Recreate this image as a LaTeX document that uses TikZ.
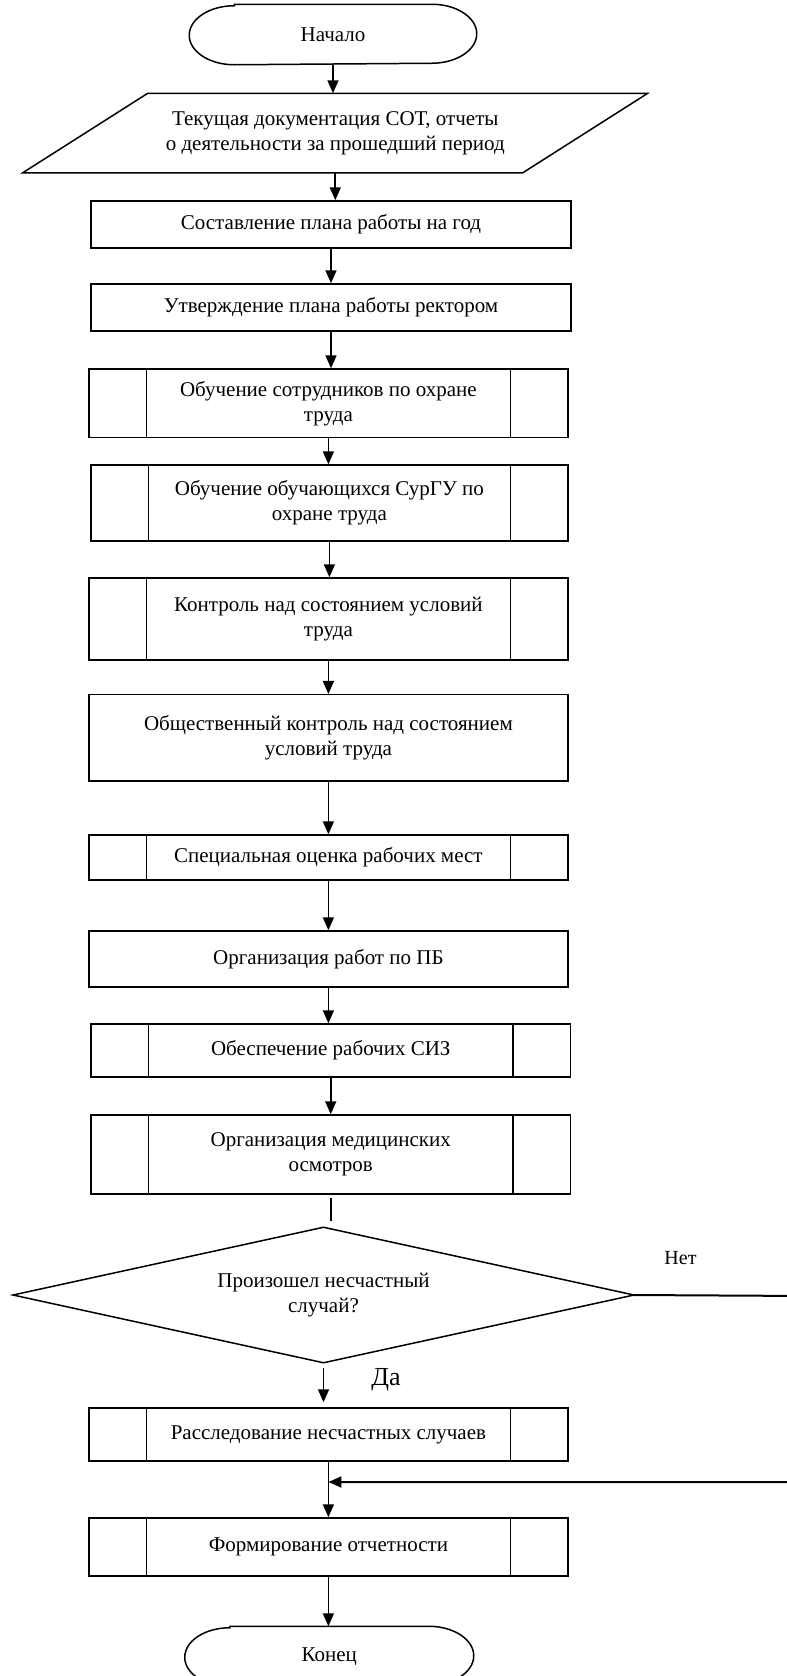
\documentclass[tikz,border=0pt]{standalone}
\usepackage{fontspec}
\setmainfont{Liberation Serif}
\usetikzlibrary{arrows.meta,calc}
\tikzset{
  txt/.style={font=\fontsize{21}{25}\selectfont},
  base/.style={txt, line width=1.5pt, inner sep=0pt, align=center},
  proc/.style={base, draw, rectangle},
  subproc/.style={proc, path picture={\draw[line width=1.5pt]
     ([xshift=57.5pt]path picture bounding box.north west) -- ([xshift=57.5pt]path picture bounding box.south west)
     ([xshift=-57.5pt]path picture bounding box.north east) -- ([xshift=-57.5pt]path picture bounding box.south east);}},
  termbox/.style={base, rectangle, minimum height=59pt},
  iobox/.style={base, rectangle, minimum width=498.5pt, minimum height=78pt},
  decision/.style={base, rectangle, minimum width=619.5pt, minimum height=134pt},
  outline/.style={line width=1.5pt, line join=miter},
  arr/.style={line width=1.7pt, -{Triangle[width=11pt,length=13pt]}},
  plain/.style={line width=1.5pt},
  lbl/.style={inner sep=0pt},
}
\newcommand\termoutline[1]{\draw[outline] ([xshift=45pt]#1.north west) -- ([xshift=-45pt]#1.north east)
   arc[start angle=90,end angle=-90,x radius=45pt,y radius=29.5pt] -- ([xshift=45pt]#1.south west)
   arc[start angle=270,end angle=90,x radius=45pt,y radius=29.5pt] -- cycle;}
\begin{document}
\begin{tikzpicture}[x=1pt,y=-1pt]
\useasboundingbox (0,0) rectangle (787,1676);
\clip (0,0) rectangle (787,1676);

\node[termbox, minimum width=286pt] (start) at (333,34.5) {Начало};
\termoutline{start}
\node[iobox] (para) at (335.3,133) {Текущая документация СОТ, отчеты\\о деятельности за прошедший период};
\draw[outline] ([xshift=62.5pt]para.north west) -- ([xshift=62.5pt]para.north east)
   -- ([xshift=-62.5pt]para.south east) -- ([xshift=-62.5pt]para.south west) -- cycle;

\node[proc, minimum width=480pt, minimum height=47pt] (b1) at (331,224.5) {Составление плана работы на год};
\node[proc, minimum width=480pt, minimum height=47pt] (b2) at (331,307.5) {Утверждение плана работы ректором};
\node[subproc, minimum width=479.2pt, minimum height=68.7pt] (b3) at (328.4,403.35) {Обучение сотрудников по охране\\труда};
\node[subproc, minimum width=477.2pt, minimum height=76pt] (b4) at (329.4,503) {Обучение обучающихся СурГУ по\\охране труда};
\node[subproc, minimum width=479.2pt, minimum height=82pt] (b5) at (328.4,619) {Контроль над состоянием условий\\труда};
\node[proc, minimum width=479.2pt, minimum height=86.3pt] (b6) at (328.4,737.85) {Общественный контроль над состоянием\\условий труда};
\node[subproc, minimum width=479.2pt, minimum height=45pt] (b7) at (328.4,857.5) {Специальная оценка рабочих мест};
\node[proc, minimum width=479.2pt, minimum height=56pt] (b8) at (328.4,959) {Организация работ по ПБ};
\node[subproc, minimum width=479.9pt, minimum height=53pt] (b9) at (330.75,1050.5) {Обеспечение рабочих СИЗ};
\node[subproc, minimum width=479.9pt, minimum height=79pt] (b10) at (330.75,1154.5) {Организация медицинских\\осмотров};
\node[decision] (dia) at (323.5,1295) {Произошел несчастный\\случай?};
\draw[outline] (dia.north) -- (dia.east) -- (dia.south) -- (dia.west) -- cycle;
\node[subproc, minimum width=479.2pt, minimum height=53pt] (b11) at (328.4,1434.5) {Расследование несчастных случаев};
\node[subproc, minimum width=479.2pt, minimum height=58pt] (b12) at (328.4,1547) {Формирование отчетности};
\node[termbox, minimum width=287.5pt] (end) at (329.25,1656.5) {Конец};
\termoutline{end}

\node[lbl, font=\fontsize{20}{24}\selectfont] (net) at (680.5,1258) {Нет};
\node[lbl, font=\fontsize{26}{30}\selectfont] (da) at (386,1380) {Да};

\draw[arr] (start.south) -- (start.south |- para.north);
\draw[arr] (para.south) -- (para.south |- b1.north);
\draw[arr] (b1.south) -- (b1.south |- b2.north);
\draw[arr] (b2.south) -- (b2.south |- b3.north);
\draw[arr] (b3.south) -- (b3.south |- b4.north);
\draw[arr] (b4.south) -- (b4.south |- b5.north);
\draw[arr] (b5.south) -- (b5.south |- b6.north);
\draw[arr] (b6.south) -- (b6.south |- b7.north);
\draw[arr] (b7.south) -- (b7.south |- b8.north);
\draw[arr] (b8.south) -- (b8.south |- b9.north);
\draw[arr] (b9.south) -- (b9.south |- b10.north);
\draw[plain] ([yshift=-3pt]b10.south) -- ([yshift=6pt]b10.south |- dia.north);
\draw[arr] ([yshift=-5pt]dia.south) -- ([yshift=5pt]dia.south |- b11.north);
\draw[arr] (b11.south) -- (b11.south |- b12.north);
\draw[arr] (b12.south) -- (b12.south |- end.north);

\coordinate (offR) at (810,1296);
\coordinate (join) at (b11.south |- 0,1482);
\draw[arr, line width=2pt] (dia.east) -- (offR) |- (join);
\end{tikzpicture}
\end{document}
